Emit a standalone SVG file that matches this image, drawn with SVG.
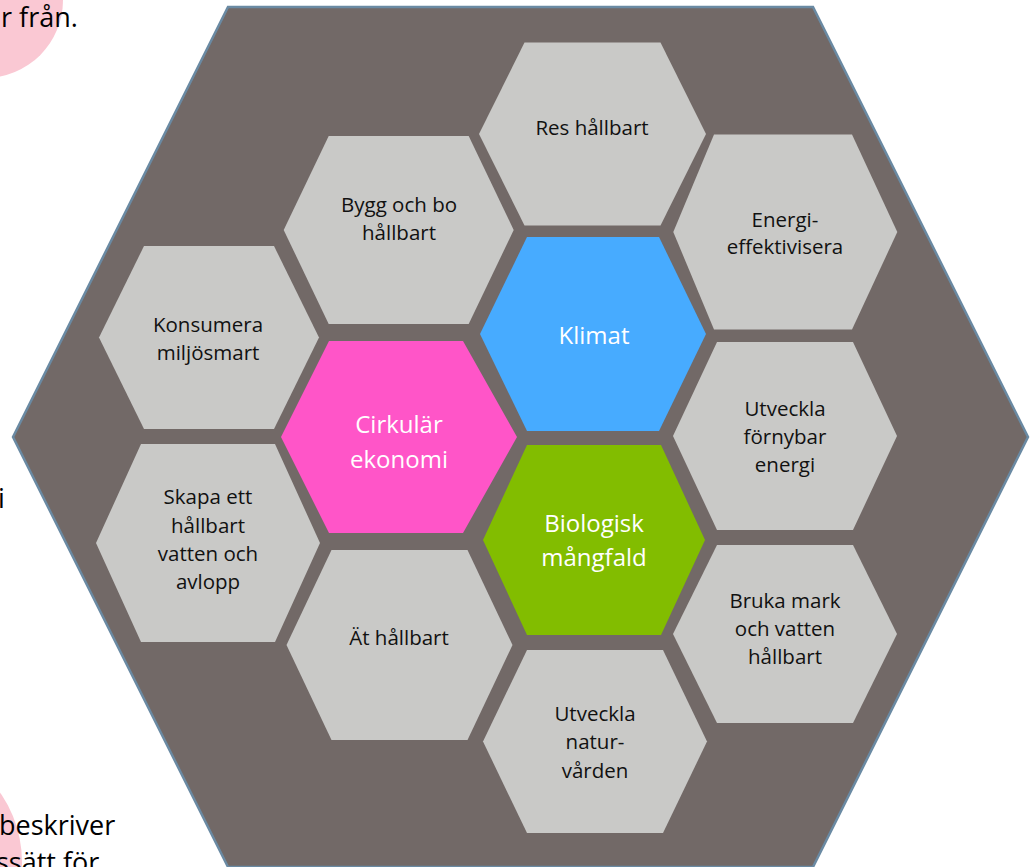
<svg xmlns="http://www.w3.org/2000/svg" width="1035" height="867" viewBox="0 0 1035 867">
<style>
.side{font-family:"Open Sans","Liberation Sans",sans-serif;font-size:27px;fill:#000}
.hx{fill:#C9C9C7}
.t{font-family:"Open Sans","Liberation Sans",sans-serif;font-size:20.5px;fill:#111;text-anchor:middle}
.w{font-family:"Open Sans","Liberation Sans",sans-serif;font-size:24px;fill:#fff;text-anchor:middle}
</style>
<rect width="1035" height="867" fill="#fff"/>
<g id="background">
<circle cx="-15" cy="0" r="78" fill="#FAC8D3"/>
<circle cx="-99" cy="862" r="121" fill="#FAC8D3"/>
<text class="side" x="1" y="27">r från.</text>
<text class="side" x="-2" y="508">i</text>
<text class="side" x="-1" y="835">beskriver</text>
<text class="side" x="-4" y="872">ssätt för</text>
</g>
<g id="outer-hexagon">
<polygon points="228,7 813,7 1028,437 813,867 228,867 13,437" fill="#726967" stroke="#6A8AA3" stroke-width="2.5"/>
</g>
<g id="res-hallbart">
<polygon class="hx" points="479,134 524.5,42.5 660.5,42.5 706,134 660.5,225.5 524.5,225.5"/>
<text class="t" x="592" y="135">Res hållbart</text>
</g>
<g id="bygg-och-bo">
<polygon class="hx" points="283.7,230 328.7,136 468.7,136 513.7,230 468.7,324 328.7,324"/>
<text class="t" x="399" y="212">Bygg och bo</text>
<text class="t" x="399" y="240">hållbart</text>
</g>
<g id="energieffektivisera">
<polygon class="hx" points="673.3,232 714,134.5 852,134.5 897.3,232 852,329.5 714,329.5"/>
<text class="t" x="785" y="227">Energi-</text>
<text class="t" x="785" y="254">effektivisera</text>
</g>
<g id="konsumera">
<polygon class="hx" points="99,337.5 144,246 274,246 319,337.5 274,429 144,429"/>
<text class="t" x="208" y="332">Konsumera</text>
<text class="t" x="208" y="360">miljösmart</text>
</g>
<g id="klimat">
<polygon points="480,334 527,237 659,237 706,334 659,431 527,431" fill="#47ABFF"/>
<text class="w" x="594" y="344">Klimat</text>
</g>
<g id="cirkular-ekonomi">
<polygon points="281,437 329,341 463,341 517,437 463,533 329,533" fill="#FF55C8"/>
<text class="w" x="399" y="433">Cirkulär</text>
<text class="w" x="399" y="468">ekonomi</text>
</g>
<g id="fornybar-energi">
<polygon class="hx" points="673,436 717,342 853,342 897,436 853,530 717,530"/>
<text class="t" x="785" y="416">Utveckla</text>
<text class="t" x="785" y="444">förnybar</text>
<text class="t" x="785" y="472">energi</text>
</g>
<g id="biologisk-mangfald">
<polygon points="483,540 527,445 661,445 705,540 661,635 527,635" fill="#82BD00"/>
<text class="w" x="594" y="532">Biologisk</text>
<text class="w" x="594" y="566">mångfald</text>
</g>
<g id="vatten-och-avlopp">
<polygon class="hx" points="96,543 141,444 275,444 320,543 275,642 141,642"/>
<text class="t" x="208" y="504">Skapa ett</text>
<text class="t" x="208" y="533">hållbart</text>
<text class="t" x="208" y="561">vatten och</text>
<text class="t" x="208" y="589">avlopp</text>
</g>
<g id="at-hallbart">
<polygon class="hx" points="286.5,645 331.5,550 467.5,550 512.5,645 467.5,740 331.5,740"/>
<text class="t" x="399" y="645">Ät hållbart</text>
</g>
<g id="bruka-mark">
<polygon class="hx" points="673,634 717,545 853,545 897,634 853,723 717,723"/>
<text class="t" x="785" y="608">Bruka mark</text>
<text class="t" x="785" y="636">och vatten</text>
<text class="t" x="785" y="664">hållbart</text>
</g>
<g id="naturvarden">
<polygon class="hx" points="483,741.5 527,650 663,650 707,741.5 663,833 527,833"/>
<text class="t" x="595" y="721">Utveckla</text>
<text class="t" x="595" y="749">natur-</text>
<text class="t" x="595" y="778">vården</text>
</g>
<g id="connectors"/>
</svg>
